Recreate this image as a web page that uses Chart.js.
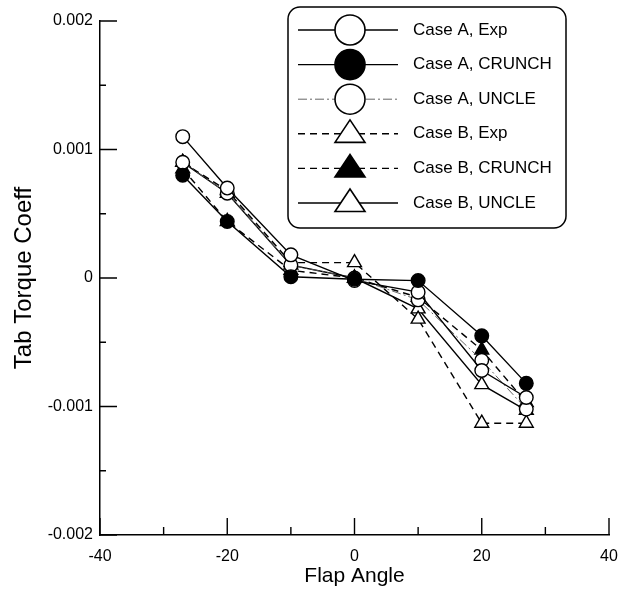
<!DOCTYPE html>
<html>
<head>
<meta charset="utf-8">
<script src="https://cdn.jsdelivr.net/npm/chart.js@4.4.1/dist/chart.umd.min.js"></script>
<style>
  html, body { margin: 0; padding: 0; background: #fff; }
  #wrap { position: relative; width: 620px; height: 593px; }
</style>
</head>
<body>
<div id="wrap"><canvas id="torqueChart" width="620" height="593"></canvas></div>
<script>
// flap angles (deg) shared by every series
const flapAngles = [-27, -20, -10, 0, 10, 20, 27];

// tab torque coefficient
const caseAExp    = [0.00110, 0.00070, 0.00018, -0.00002, -0.00011, -0.00072, -0.00093];
const caseACrunch = [0.00080, 0.00044, 0.00001, -0.00001, -0.00002, -0.00045, -0.00082];
const caseAUncle  = [0.00090, 0.00066, 0.00010, 0.00000, -0.00017, -0.00064, -0.00102];
const caseBExp    = [0.00090, 0.00068, 0.00012, 0.00012, -0.00032, -0.00113, -0.00113];
const caseBCrunch = [0.00085, 0.00044, 0.00006, 0.00000, -0.00015, -0.00056, -0.00097];
const caseBUncle  = [0.00090, 0.00066, 0.00010, 0.00000, -0.00024, -0.00083, -0.00103];

const seriesNames = ['Case A, Exp', 'Case A, CRUNCH', 'Case A, UNCLE', 'Case B, Exp', 'Case B, CRUNCH', 'Case B, UNCLE'];

// axis ticks
const xTicks = [-40, -20, 0, 20, 40];
const xMinorTicks = [-30, -10, 10, 30];
const yTicks = [-0.002, -0.001, 0, 0.001, 0.002];
const yMinorTicks = [-0.0015, -0.0005, 0.0005, 0.0015];

const FONT = "'Liberation Sans', Arial, Helvetica, sans-serif";

const toPoints = (vals) => vals.map((v, i) => ({ x: flapAngles[i], y: v }));

const makeSeries = (label, vals, opts) => Object.assign({
  label: label,
  data: toPoints(vals),
  order: 1,
  borderColor: '#000',
  borderWidth: 1.4,
  pointBorderColor: '#000',
  pointBorderWidth: 1.4,
  pointBackgroundColor: '#fff',
  pointRadius: 6.8,
  pointHoverRadius: 6.8,
  tension: 0,
  fill: false
}, opts);

const datasets = [
  makeSeries(seriesNames[0], caseAExp, { pointStyle: 'circle' }),
  // filled circles sit on top of the rest
  makeSeries(seriesNames[1], caseACrunch, { pointStyle: 'circle', pointBackgroundColor: '#000', order: 0 }),
  makeSeries(seriesNames[2], caseAUncle, { pointStyle: 'circle', borderColor: '#555', borderWidth: 0.9, borderDash: [9, 3, 2, 3] }),
  makeSeries(seriesNames[3], caseBExp, { pointStyle: 'triangle', pointRadius: 8, borderDash: [7, 5] }),
  makeSeries(seriesNames[4], caseBCrunch, { pointStyle: 'triangle', pointRadius: 8, pointBackgroundColor: '#000', borderDash: [7, 5] }),
  makeSeries(seriesNames[5], caseBUncle, { pointStyle: 'triangle', pointRadius: 8 })
];

// ticks point inward, majors long, minors short
const inwardTicks = {
  id: 'inwardTicks',
  afterDraw(chart) {
    const { ctx, chartArea } = chart;
    const xs = chart.scales.x, ys = chart.scales.y;
    ctx.save();
    ctx.strokeStyle = '#000';
    ctx.lineWidth = 1.4;
    ctx.beginPath();
    xTicks.forEach(v => {
      const px = xs.getPixelForValue(v);
      ctx.moveTo(px, chartArea.bottom); ctx.lineTo(px, chartArea.bottom - 17);
    });
    xMinorTicks.forEach(v => {
      const px = xs.getPixelForValue(v);
      ctx.moveTo(px, chartArea.bottom); ctx.lineTo(px, chartArea.bottom - 8);
    });
    yTicks.forEach(v => {
      const py = ys.getPixelForValue(v);
      ctx.moveTo(chartArea.left, py); ctx.lineTo(chartArea.left + 17, py);
    });
    yMinorTicks.forEach(v => {
      const py = ys.getPixelForValue(v);
      ctx.moveTo(chartArea.left, py); ctx.lineTo(chartArea.left + 6, py);
    });
    ctx.stroke();
    ctx.restore();
  }
};

const drawMarker = (ctx, style, filled, x, y, r) => {
  ctx.beginPath();
  if (style === 'triangle') {
    const h = r * 1.5;
    ctx.moveTo(x, y - h * 0.62);
    ctx.lineTo(x + r, y + h * 0.38);
    ctx.lineTo(x - r, y + h * 0.38);
    ctx.closePath();
  } else {
    ctx.arc(x, y, r, 0, Math.PI * 2);
  }
  ctx.fillStyle = filled ? '#000' : '#fff';
  ctx.fill();
  ctx.setLineDash([]);
  ctx.lineWidth = 1.6;
  ctx.strokeStyle = '#000';
  ctx.stroke();
};

// boxed legend in the top right, line sample with a big marker on it
const legendBox = {
  id: 'legendBox',
  afterDraw(chart) {
    const ctx = chart.ctx;
    const bx = 288, by = 7, bw = 278, bh = 221, br = 12;
    ctx.save();
    ctx.beginPath();
    ctx.moveTo(bx + br, by);
    ctx.arcTo(bx + bw, by, bx + bw, by + bh, br);
    ctx.arcTo(bx + bw, by + bh, bx, by + bh, br);
    ctx.arcTo(bx, by + bh, bx, by, br);
    ctx.arcTo(bx, by, bx + bw, by, br);
    ctx.closePath();
    ctx.fillStyle = '#fff';
    ctx.fill();
    ctx.lineWidth = 1.5;
    ctx.strokeStyle = '#000';
    ctx.stroke();

    chart.data.datasets.forEach((ds, i) => {
      const y = 30 + i * 34.6;
      ctx.beginPath();
      ctx.setLineDash(ds.borderDash || []);
      ctx.lineWidth = ds.borderWidth;
      ctx.strokeStyle = ds.borderColor;
      ctx.moveTo(298, y);
      ctx.lineTo(398, y);
      ctx.stroke();
      const filled = ds.pointBackgroundColor === '#000';
      drawMarker(ctx, ds.pointStyle, filled, 350, y, 15);
      ctx.fillStyle = '#000';
      ctx.font = '17px ' + FONT;
      ctx.textAlign = 'left';
      ctx.textBaseline = 'middle';
      ctx.fillText(ds.label, 413, y);
    });
    ctx.restore();
  }
};

new Chart(document.getElementById('torqueChart'), {
  type: 'line',
  data: { datasets: datasets },
  options: {
    responsive: false,
    animation: false,
    devicePixelRatio: 1,
    layout: { padding: { top: 21, right: 11, left: 0, bottom: 0 } },
    plugins: { legend: { display: false }, tooltip: { enabled: false } },
    scales: {
      x: {
        type: 'linear',
        min: -40, max: 40,
        afterBuildTicks: (s) => { s.ticks = xTicks.map(v => ({ value: v })); },
        afterFit: (s) => { s.height = 58; s.paddingLeft = 0; s.paddingRight = 0; },
        grid: { drawOnChartArea: false, drawTicks: false },
        border: { display: true, color: '#000', width: 1.5 },
        ticks: { color: '#000', padding: 12, font: { family: FONT, size: 16 } },
        title: { display: true, text: 'Flap Angle', color: '#000', padding: { top: 0, bottom: 4 }, font: { family: FONT, size: 21 } }
      },
      y: {
        type: 'linear',
        min: -0.002, max: 0.002,
        afterBuildTicks: (s) => { s.ticks = yTicks.map(v => ({ value: v })); },
        afterFit: (s) => { s.width = 100; s.paddingTop = 0; s.paddingBottom = 0; },
        grid: { drawOnChartArea: false, drawTicks: false },
        border: { display: true, color: '#000', width: 1.5 },
        ticks: {
          color: '#000', padding: 7, font: { family: FONT, size: 16 },
          callback: (v) => (Math.abs(v) < 1e-9 ? '0' : Number(v).toFixed(3))
        },
        title: { display: true, text: 'Tab Torque Coeff', color: '#000', padding: { top: 10, bottom: 0 }, font: { family: FONT, size: 24 } }
      }
    }
  },
  plugins: [inwardTicks, legendBox]
});
</script>
</body>
</html>
